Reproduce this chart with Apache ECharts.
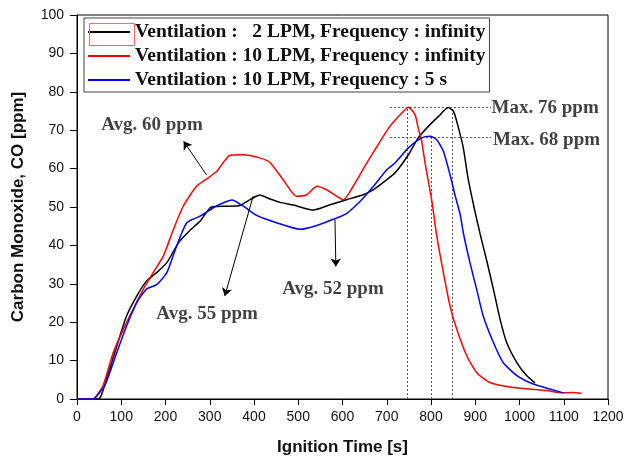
<!DOCTYPE html>
<html><head><meta charset="utf-8">
<script src="https://cdn.jsdelivr.net/npm/echarts@6/dist/echarts.min.js"></script>
<style>html,body{margin:0;padding:0;background:#fff}#c{width:628px;height:461px}</style>
</head><body><div id="c"></div>
<script>
// ---- data ----
const seriesNames = [
  'Ventilation :   2 LPM, Frequency : infinity',
  'Ventilation : 10 LPM, Frequency : infinity',
  'Ventilation : 10 LPM, Frequency : 5 s'
];
const blackX = [0,48,55,67,90,112,135,157,180,203,230,255,278,304,338,368,391,413,436,459,489,534,572,609,647,670,700,719,749,771,794,817,839,851,862,873,884,899,911,926,941,956,971,994,1016,1035];
const blackY = [0,0,1,5.2,13.8,21.6,26.8,30.7,32.9,35.5,40.8,43.9,46.3,50,50.2,50.4,51.9,53.1,52.1,51.2,50.5,49.2,50.6,51.9,53.2,54.5,57.1,58.9,63.6,68,71,73.6,75.9,74.9,70.6,65.4,57.3,49,43,36,28.6,20.8,14.7,9.5,6.1,4.2];
const redX = [0,35,45,59,82,105,127,150,172,195,218,240,270,293,316,346,376,413,436,466,496,519,542,564,602,624,655,685,707,734,749,764,771,779,786,794,802,813,828,843,858,881,903,933,986,1061,1099,1121,1140];
const redY = [0,0,1,3.5,12.1,18.2,23.4,28.6,32.9,37.2,44.2,50.2,55.4,57.3,59.3,63.5,63.6,62.8,61.6,57.1,52.8,53.2,55.4,54.5,51.9,55.4,61.5,67.1,71,74.5,76,74,70.6,67.1,61.9,56.7,51.5,42.5,32.9,24.2,18.2,11.2,6.9,4.3,3.0,2.2,1.6,1.7,1.5];
const blueX = [0,38,45,63,90,112,135,157,180,203,225,248,278,308,331,350,376,406,451,504,542,579,609,640,670,700,719,749,779,798,813,828,843,854,866,873,888,903,918,941,963,994,1031,1069,1099];
const blueY = [0,0,0.8,3.5,12.1,19,25.1,28.6,29.8,32.9,39.8,45.9,47.6,49.8,51.1,51.8,50.2,47.8,45.9,44.2,45.2,46.8,48.3,51.5,55.4,59.7,61.5,65.4,68,68.4,67.5,64.5,58.4,53.2,48,43.3,35.5,28.6,21.6,14.7,9.5,6.1,3.9,2.6,1.6];

const xTicks = {min:0, max:1200, step:100};
const yTicks = {min:0, max:100, step:10};

// annotation arrows: [fromX, fromY, toX, toY]
const arrows = [[293,58.3,241,67.1],[398,52.8,334,26.8],[583,46.8,585,34.5]];
// dotted guide lines: [x1,y1,x2,y2]
const guides = [[707,76,936,76],[707,68.2,936,68.2],[746,0,746,76],[800,0,800,68.4],[847,0,847,76]];
// annotation texts
const noteText = ['Avg. 60 ppm','Avg. 55 ppm','Avg. 52 ppm','Max. 76 ppm','Max. 68 ppm'];
const noteX = [169.5,294,578.5,1058,1061];
const noteY = [71.4,22.1,28.6,75.8,67.5];

// ---- chart ----
const zip = (xs, ys) => xs.map((x, i) => [x, ys[i]]);
const chart = echarts.init(document.getElementById('c'), null, {renderer:'canvas'});
const sans = 'Liberation Sans, Arial, sans-serif';
const serif = 'Liberation Serif, Times New Roman, serif';
const lineSeries = (name, xs, ys, color) => ({
  name, type:'line', data: zip(xs, ys), showSymbol:false, smooth:0.2,
  lineStyle:{color, width:1.5}, itemStyle:{color}, z:3
});
chart.setOption({
  animation:false,
  grid:{left:77, right:20, top:15, bottom:61, show:true, borderColor:'#000', borderWidth:1},
  xAxis:{type:'value', min:xTicks.min, max:xTicks.max, interval:xTicks.step,
    name:'Ignition Time [s]', nameLocation:'middle', nameGap:40,
    nameTextStyle:{fontFamily:sans, fontSize:17, fontWeight:'bold', color:'#111'},
    axisLine:{lineStyle:{color:'#000', width:1}},
    axisTick:{inside:false, length:6, lineStyle:{color:'#000'}},
    axisLabel:{fontFamily:sans, fontSize:14, color:'#111', margin:11, formatter:v => String(v)},
    splitLine:{show:false}},
  yAxis:{type:'value', min:yTicks.min, max:yTicks.max, interval:yTicks.step,
    name:'Carbon Monoxide, CO [ppm]', nameLocation:'middle', nameGap:50,
    nameTextStyle:{fontFamily:sans, fontSize:17, fontWeight:'bold', color:'#111'},
    axisLine:{show:true, lineStyle:{color:'#000', width:1}},
    axisTick:{show:true, inside:false, length:7, lineStyle:{color:'#000'}},
    axisLabel:{fontFamily:sans, fontSize:14, color:'#111', margin:13, formatter:v => String(v)},
    splitLine:{show:false}},
  legend:{data:seriesNames, orient:'vertical', left:84, top:18, icon:'rect',
    itemWidth:42, itemHeight:2, itemGap:0, padding:[2,4,0,4],
    borderColor:'#444', borderWidth:1, backgroundColor:'#fff',
    textStyle:{fontFamily:serif, fontSize:19.5, fontWeight:'bold', color:'#111', lineHeight:24},
    selectedMode:false},
  graphic:[{type:'rect', left:87, top:21, shape:{width:45, height:22},
    style:{fill:'none', stroke:'#f66', lineWidth:1}, z:100}],
  series:[
    lineSeries(seriesNames[0], blackX, blackY, '#000000'),
    lineSeries(seriesNames[1], redX, redY, '#ff0000'),
    lineSeries(seriesNames[2], blueX, blueY, '#0000ff'),
    {type:'lines', coordinateSystem:'cartesian2d', silent:true, z:2,
     symbol:['none','none'],
     lineStyle:{color:'#555', width:1, type:[2,2], opacity:1},
     data: guides.map(g => ({coords:[[g[0],g[1]],[g[2],g[3]]]}))},
    {type:'lines', coordinateSystem:'cartesian2d', silent:true, z:4,
     symbol:['none','arrow'], symbolSize:[5,8],
     lineStyle:{color:'#000', width:1, opacity:1},
     data: arrows.map(a => ({coords:[[a[0],a[1]],[a[2],a[3]]]}))},
    {type:'scatter', symbolSize:0, silent:true, z:5,
     data: noteText.map((t,i) => ({value:[noteX[i], noteY[i]], name:t})),
     label:{show:true, position:'inside', formatter:p => p.name,
       fontFamily:serif, fontSize:19, fontWeight:'bold', color:'#111'}}
  ]
});
</script></body></html>
